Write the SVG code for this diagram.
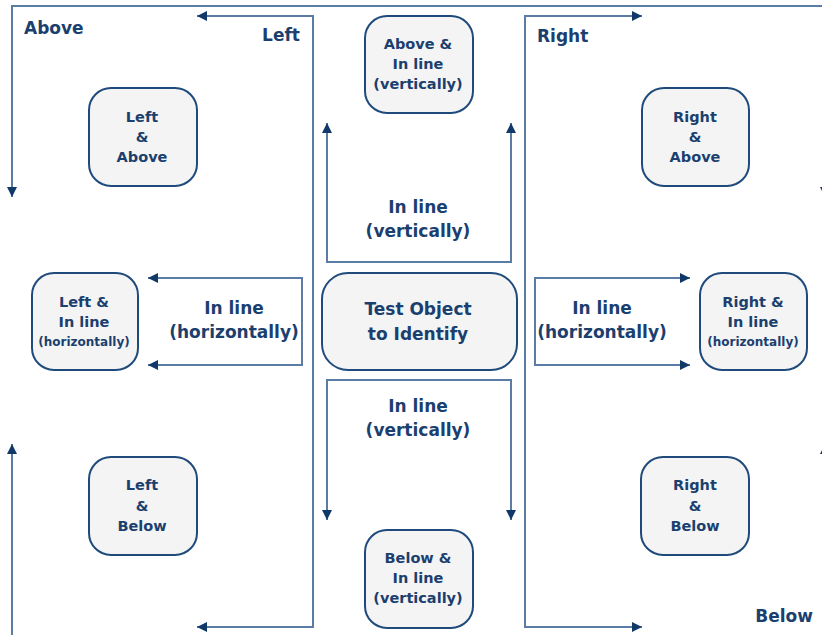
<svg xmlns="http://www.w3.org/2000/svg" width="822" height="635" viewBox="0 0 822 635">
  <style>
    .node rect { fill: #f4f4f4; stroke: #1f4a7c; stroke-width: 2; }
    .nt { font-family: "DejaVu Sans", "Liberation Sans", sans-serif; font-weight: bold; font-size: 14.5px; fill: #1b3f6e; text-anchor: middle; }
    .ns { font-size: 12px; }
    .lbl { font-family: "DejaVu Sans", "Liberation Sans", sans-serif; font-weight: bold; font-size: 17px; fill: #1b3f6e; }
    .mid { text-anchor: middle; }
    .conn path { fill: none; stroke: #5a7ca5; stroke-width: 2; marker-start: url(#ah); marker-end: url(#ah); }
    .conn path.one { marker-end: none; }
  </style>
  <defs>
    <marker id="ah" markerUnits="userSpaceOnUse" viewBox="0 0 10 10" refX="10" refY="5" markerWidth="11" markerHeight="10" orient="auto-start-reverse">
      <path d="M0,0 L10,5 L0,10 z" fill="#10396a"/>
    </marker>
  </defs>
  <rect width="822" height="635" fill="#ffffff"/>

  <g id="connectors" class="conn">
    <path d="M825,197 V6 H12 V197"/>
    <path class="one" d="M12,444 V640"/>
    <path class="one" d="M825,444 V640"/>
    <path d="M197,16 H313 V627 H197"/>
    <path d="M642,16 H525 V627 H642"/>
    <path d="M327,123 V262 H511 V123"/>
    <path d="M327,520 V380 H511 V520"/>
    <path d="M148,278 H302 V365 H148"/>
    <path d="M690,278 H535 V365 H690"/>
  </g>

  <g id="labels">
    <text class="lbl" x="24" y="34">Above</text>
    <text class="lbl" x="300" y="41" text-anchor="end">Left</text>
    <text class="lbl" x="537" y="42">Right</text>
    <text class="lbl" x="813" y="622" text-anchor="end">Below</text>
    <text class="lbl mid" x="418" y="213">In line</text>
    <text class="lbl mid" x="418" y="237">(vertically)</text>
    <text class="lbl mid" x="418" y="412">In line</text>
    <text class="lbl mid" x="418" y="436">(vertically)</text>
    <text class="lbl mid" x="234" y="314">In line</text>
    <text class="lbl mid" x="234" y="338">(horizontally)</text>
    <text class="lbl mid" x="602" y="314">In line</text>
    <text class="lbl mid" x="602" y="338">(horizontally)</text>
  </g>

  <g id="test-object" class="node">
    <rect x="322" y="273" width="195" height="97" rx="26"/>
    <text class="lbl mid" x="418" y="315">Test Object</text>
    <text class="lbl mid" x="418" y="340">to Identify</text>
  </g>

  <g id="above-inline" class="node">
    <rect x="365" y="16" width="108" height="97" rx="22"/>
    <text class="nt" x="418" y="49">Above &amp;</text>
    <text class="nt" x="418" y="69">In line</text>
    <text class="nt" x="418" y="89">(vertically)</text>
  </g>

  <g id="below-inline" class="node">
    <rect x="365" y="530" width="108" height="98" rx="22"/>
    <text class="nt" x="418" y="563">Below &amp;</text>
    <text class="nt" x="418" y="583">In line</text>
    <text class="nt" x="418" y="603">(vertically)</text>
  </g>

  <g id="left-above" class="node">
    <rect x="89" y="88" width="108" height="98" rx="22"/>
    <text class="nt" x="142" y="122">Left</text>
    <text class="nt" x="142" y="142">&amp;</text>
    <text class="nt" x="142" y="162">Above</text>
  </g>

  <g id="right-above" class="node">
    <rect x="642" y="88" width="107" height="98" rx="22"/>
    <text class="nt" x="695" y="122">Right</text>
    <text class="nt" x="695" y="142">&amp;</text>
    <text class="nt" x="695" y="162">Above</text>
  </g>

  <g id="left-inline" class="node">
    <rect x="32" y="273" width="106" height="97" rx="22"/>
    <text class="nt" x="84" y="307">Left &amp;</text>
    <text class="nt" x="84" y="327">In line</text>
    <text class="nt ns" x="84" y="346">(horizontally)</text>
  </g>

  <g id="right-inline" class="node">
    <rect x="700" y="273" width="107" height="97" rx="22"/>
    <text class="nt" x="753" y="307">Right &amp;</text>
    <text class="nt" x="753" y="327">In line</text>
    <text class="nt ns" x="753" y="346">(horizontally)</text>
  </g>

  <g id="left-below" class="node">
    <rect x="89" y="457" width="108" height="98" rx="22"/>
    <text class="nt" x="142" y="490">Left</text>
    <text class="nt" x="142" y="511">&amp;</text>
    <text class="nt" x="142" y="531">Below</text>
  </g>

  <g id="right-below" class="node">
    <rect x="641" y="457" width="108" height="98" rx="22"/>
    <text class="nt" x="695" y="490">Right</text>
    <text class="nt" x="695" y="511">&amp;</text>
    <text class="nt" x="695" y="531">Below</text>
  </g>
</svg>
